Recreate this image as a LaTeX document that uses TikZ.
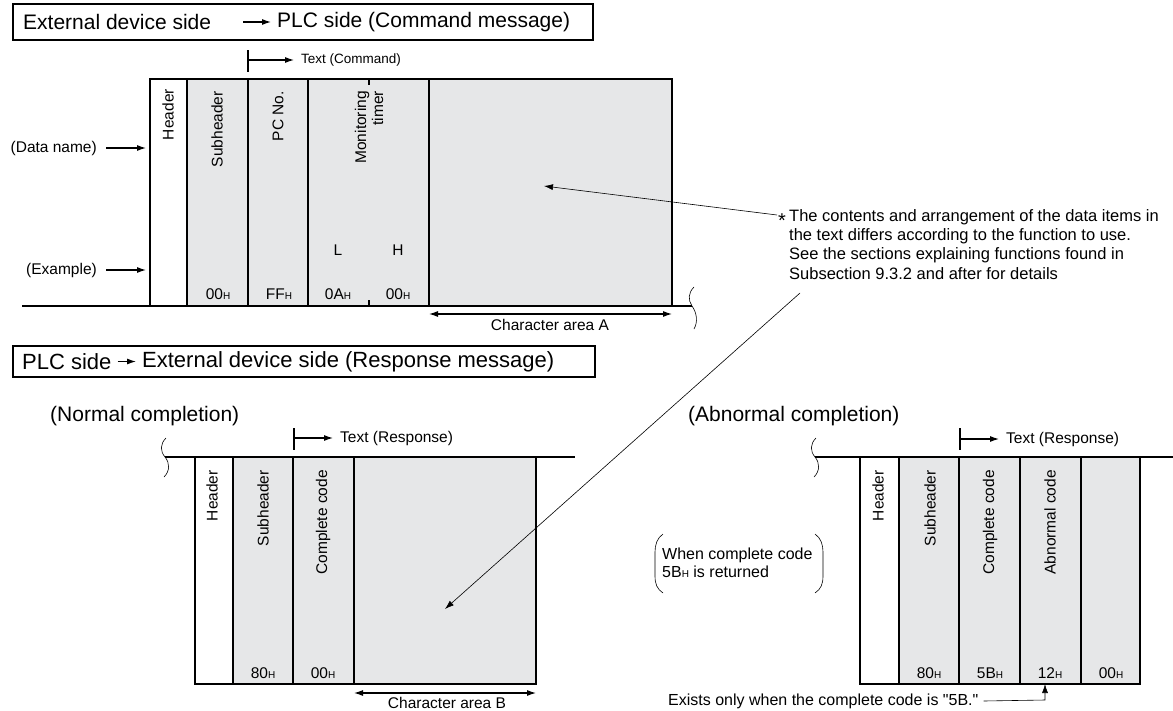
\documentclass[tikz,border=0pt]{standalone}
\usepackage{fontspec}
\setmainfont{Liberation Sans}
\usetikzlibrary{arrows.meta}
\definecolor{cellgray}{RGB}{230,231,232}
\newcommand{\hexv}[1]{#1{\fontsize{10}{10}\selectfont H}}

\begin{document}
\begin{tikzpicture}[x=1pt,y=-1pt,
  frm/.style={line width=1.1pt},
  cell/.style={draw, line width=1.1pt, fill=cellgray},
  wcell/.style={draw, line width=1.1pt, fill=white},
  lbl/.style={inner sep=0pt, font=\fontsize{15.5}{17}\selectfont},
  slbl/.style={inner sep=0pt, font=\fontsize{13.5}{15}\selectfont},
  vlbl/.style={lbl, rotate=90, anchor=east},
  ttl/.style={inner sep=0pt, font=\fontsize{21}{24}\selectfont},
  note/.style={inner sep=0pt, font=\fontsize{16.5}{19.3}\selectfont},
  arr/.style={line width=1.1pt, -{Latex[length=9pt,width=6pt]}},
  dblarr/.style={line width=1.1pt, {Latex[length=9pt,width=6pt]}-{Latex[length=9pt,width=6pt]}},
  thin/.style={line width=0.6pt},
  wave/.style={line width=0.6pt}
]

\useasboundingbox (0,0) rectangle (1173,710);

%command message
\draw[frm] (13,4) rectangle (593,40);
\node[ttl, anchor=west] (cmdA) at (23,22) {External device side};
\node[ttl, anchor=west] (cmdB) at (277,22) {PLC side (Command message)};
\draw[arr] ([xshift=32pt]cmdA.east) -- ([xshift=-6pt]cmdB.west);

%text marker
\coordinate (tcmd) at (248,60);
\draw[frm] (248,50) -- (248,72);
\node[slbl, anchor=west] (tcmdl) at (301,60) {Text (Command)};
\draw[arr] (tcmd) -- ([xshift=-7pt]tcmdl.west);

%columns
\draw[wcell] (150,79) rectangle (187,306);
\foreach \xa/\xb in {187/248,248/308,308/429,429/672}
  \draw[cell] (\xa,79) rectangle (\xb,306);
\draw[frm] (369,79) -- (369,85) (369,300) -- (369,306);
\draw[frm] (22,306) -- (692,306);
\draw[wave] (694,287) .. controls (688,293) and (688,300) .. (692,306)
  .. controls (697,313) and (698,322) .. (694,329);

\node[vlbl] (hdrA) at (168,89) {Header};
\node[vlbl] (subA) at (217,91) {Subheader};
\node[vlbl] (pcA) at (278,91) {PC No.};
\node[vlbl, align=right] (monA) at (369,91) {Monitoring\\timer};
\node[lbl] (lowA) at (338,250) {L};
\node[lbl] (highA) at (398,250) {H};
\node[lbl] (valA1) at (218,294) {\hexv{00}};
\node[lbl] (valA2) at (279,294) {\hexv{FF}};
\node[lbl] (valA3) at (338,294) {\hexv{0A}};
\node[lbl] (valA4) at (398,294) {\hexv{00}};

%row names
\node[lbl, anchor=east] (dname) at (97,148) {(Data name)};
\coordinate (dnameE) at (146,148);
\draw[arr] ([xshift=9pt]dname.east) -- (dnameE);
\node[lbl, anchor=east] (exmp) at (97,270) {(Example)};
\coordinate (exmpE) at (146,270);
\draw[arr] ([xshift=9pt]exmp.east) -- (exmpE);

%character area A
\coordinate (caAl) at (429,314);
\coordinate (caAr) at (672,314);
\draw[dblarr] (caAl) -- (caAr);
\node[lbl] (caA) at (550,325) {Character area A};

%response message
\draw[frm] (13,346) rectangle (595,377);
\node[ttl, anchor=west, font=\fontsize{22}{24}\selectfont] (rspA) at (22,361.5) {PLC side};
\node[ttl, anchor=west, font=\fontsize{22}{24}\selectfont] (rspB) at (142,361.5) {External device side (Response message)};
\draw[arr] ([xshift=6pt]rspA.east) -- ([xshift=-6pt]rspB.west);

%normal completion
\node[ttl, anchor=west] (normal) at (50,416) {(Normal completion)};
\coordinate (tresN) at (294,438);
\draw[frm] (294,428) -- (294,450);
\node[lbl, anchor=west] (tresNl) at (340,438) {Text (Response)};
\draw[arr] (tresN) -- ([xshift=-7pt]tresNl.west);

\draw[wave] (166,438) .. controls (160,444) and (160,451) .. (165,457)
  .. controls (170,463) and (170,471) .. (164,477);
\draw[frm] (165,457) -- (575,457);
\draw[wcell] (195,457) rectangle (233,684);
\foreach \xa/\xb in {233/293,293/354,354/536}
  \draw[cell] (\xa,457) rectangle (\xb,684);
\node[vlbl] (hdrN) at (212,470) {Header};
\node[vlbl] (subN) at (263,470) {Subheader};
\node[vlbl] (cmpN) at (323,470) {Complete code};
\node[lbl] (valN1) at (263,673) {\hexv{80}};
\node[lbl] (valN2) at (323,673) {\hexv{00}};

\coordinate (caBl) at (354,693);
\coordinate (caBr) at (536,693);
\draw[dblarr] (caBl) -- (caBr);
\node[lbl] (caB) at (447,703) {Character area B};

%abnormal completion
\node[ttl, anchor=west] (abnormal) at (688,416) {(Abnormal completion)};
\coordinate (tresE) at (960,439);
\draw[frm] (960,428) -- (960,450);
\node[lbl, anchor=west] (tresEl) at (1006,439) {Text (Response)};
\draw[arr] (tresE) -- ([xshift=-7pt]tresEl.west);

\draw[wave] (816,438) .. controls (810,444) and (810,451) .. (815,457)
  .. controls (820,463) and (820,471) .. (814,477);
\draw[frm] (815,457) -- (1173,457);
\draw[wcell] (860,457) rectangle (899,684);
\foreach \xa/\xb in {899/959,959/1020,1020/1081,1081/1140}
  \draw[cell] (\xa,457) rectangle (\xb,684);
\node[vlbl] (hdrE) at (878,470) {Header};
\node[vlbl] (subE) at (930,470) {Subheader};
\node[vlbl] (cmpE) at (990,470) {Complete code};
\node[vlbl] (abnE) at (1050,470) {Abnormal code};
\node[lbl] (valE1) at (929,673) {\hexv{80}};
\node[lbl] (valE2) at (990,673) {\hexv{5B}};
\node[lbl] (valE3) at (1050,673) {\hexv{12}};
\node[lbl] (valE4) at (1111,673) {\hexv{00}};

%bracket remark
\node[note, anchor=north west, align=left, font=\fontsize{16}{18}\selectfont] (when) at (662,548)
  {When complete code\\5B{\fontsize{10}{10}\selectfont H} is returned};
\draw[wave] (663,534) .. controls (657,538) and (655,545) .. (655,552) -- (655,576)
  .. controls (655,584) and (657,589) .. (663,593);
\draw[wave] (815,534) .. controls (821,538) and (823,545) .. (823,552) -- (823,576)
  .. controls (823,584) and (821,589) .. (815,593);

\node[lbl, anchor=west, font=\fontsize{16}{18}\selectfont] (exists) at (668,701)
  {Exists only when the complete code is \textquotedbl 5B.\textquotedbl};
\coordinate (bendE) at (1045,700);
\coordinate (tipE) at (1045,684);
\draw[thin, -{Latex[length=9pt,width=6pt]}] ([xshift=5pt]exists.east) -- (bendE) -- (tipE);

%note
\node[inner sep=0pt, font=\fontsize{20}{20}\selectfont] (ast) at (782,221) {*};
\node[note, anchor=north west, align=left] (note) at (789,209)
  {The contents and arrangement of the data items in\\
   the text differs according to the function to use.\\
   See the sections explaining functions found in\\
   Subsection 9.3.2 and after for details};
\coordinate (noteA) at (777,215);
\coordinate (tipA) at (544,186);
\draw[thin, -{Latex[length=9pt,width=6pt]}] (noteA) -- (tipA);
\coordinate (noteB) at (800,293);
\coordinate (tipB) at (445,609);
\draw[thin, -{Latex[length=9pt,width=6pt]}] (noteB) -- (tipB);

\end{tikzpicture}
\end{document}
